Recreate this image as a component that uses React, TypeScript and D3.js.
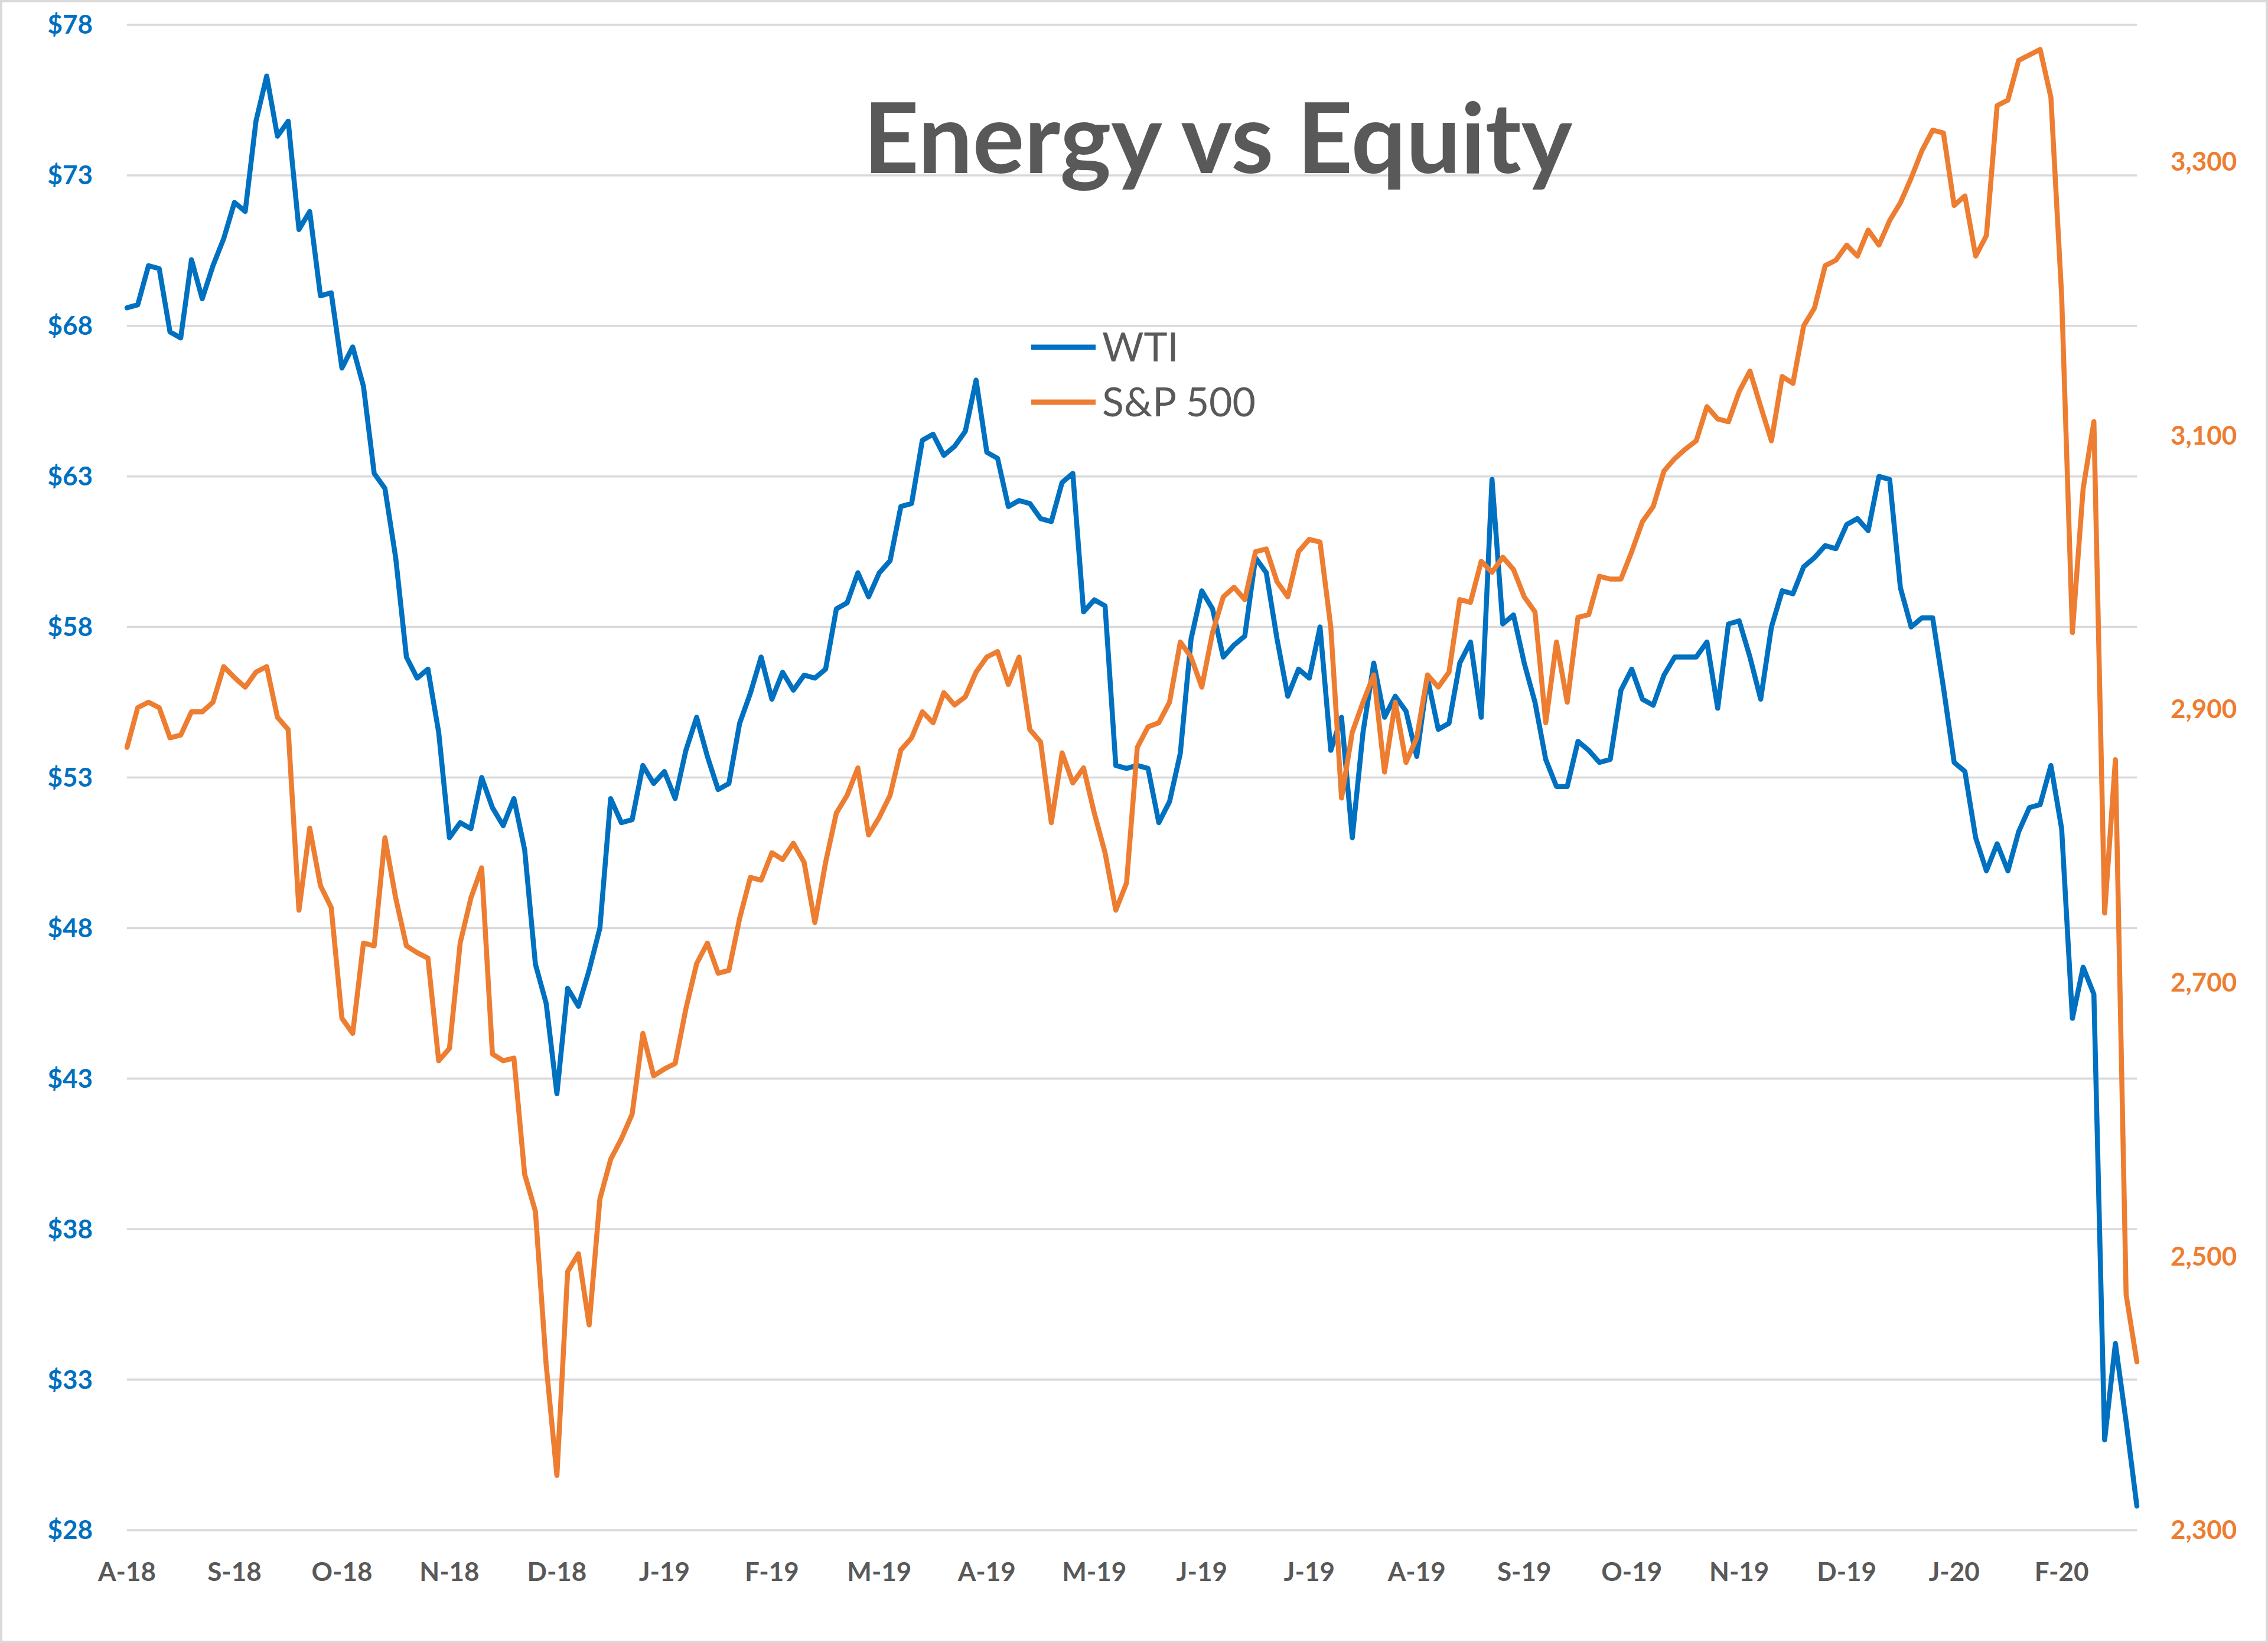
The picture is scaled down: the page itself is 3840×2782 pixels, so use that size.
import React from "react";
import * as d3 from "d3";

// sampled every ~2 trading days, Aug-2018 .. Mar-2020
const wtiPrice = [
  68.6, 68.7, 70.0, 69.9, 67.8, 67.6, 70.2, 68.9, 70.0, 70.9,
  72.1, 71.8, 74.8, 76.3, 74.3, 74.8, 71.2, 71.8, 69.0, 69.1,
  66.6, 67.3, 66.0, 63.1, 62.6, 60.3, 57.0, 56.3, 56.6, 54.5,
  51.0, 51.5, 51.3, 53.0, 52.0, 51.4, 52.3, 50.6, 46.8, 45.5,
  42.5, 46.0, 45.4, 46.6, 48.0, 52.3, 51.5, 51.6, 53.4, 52.8,
  53.2, 52.3, 53.9, 55.0, 53.7, 52.6, 52.8, 54.8, 55.8, 57.0,
  55.6, 56.5, 55.9, 56.4, 56.3, 56.6, 58.6, 58.8, 59.8, 59.0,
  59.8, 60.2, 62.0, 62.1, 64.2, 64.4, 63.7, 64.0, 64.5, 66.2,
  63.8, 63.6, 62.0, 62.2, 62.1, 61.6, 61.5, 62.8, 63.1, 58.5,
  58.9, 58.7, 53.4, 53.3, 53.4, 53.3, 51.5, 52.2, 53.8, 57.6,
  59.2, 58.6, 57.0, 57.4, 57.7, 60.3, 59.8, 57.6, 55.7, 56.6,
  56.3, 58.0, 53.9, 55.0, 51.0, 54.5, 56.8, 55.0, 55.7, 55.2,
  53.7, 56.3, 54.6, 54.8, 56.8, 57.5, 55.0, 62.9, 58.1, 58.4,
  56.8, 55.5, 53.6, 52.7, 52.7, 54.2, 53.9, 53.5, 53.6, 55.9,
  56.6, 55.6, 55.4, 56.4, 57.0, 57.0, 57.0, 57.5, 55.3, 58.1,
  58.2, 57.0, 55.6, 58.0, 59.2, 59.1, 60.0, 60.3, 60.7, 60.6,
  61.4, 61.6, 61.2, 63.0, 62.9, 59.3, 58.0, 58.3, 58.3, 56.0,
  53.5, 53.2, 51.0, 49.9, 50.8, 49.9, 51.2, 52.0, 52.1, 53.4,
  51.3, 45.0, 46.7, 45.8, 31.0, 34.2, 31.6, 28.8,
];

const spxClose = [
  2872, 2901, 2905, 2901, 2879, 2881, 2898, 2898, 2905, 2931,
  2923, 2916, 2927, 2931, 2894, 2885, 2753, 2813, 2771, 2755,
  2674, 2663, 2729, 2727, 2806, 2762, 2727, 2722, 2718, 2643,
  2652, 2729, 2762, 2784, 2648, 2643, 2645, 2560, 2533, 2421,
  2340, 2489, 2502, 2450, 2542, 2571, 2586, 2604, 2663, 2632,
  2637, 2641, 2681, 2714, 2729, 2707, 2709, 2747, 2777, 2775,
  2795, 2790, 2802, 2788, 2744, 2788, 2824, 2837, 2857, 2808,
  2821, 2837, 2870, 2879, 2898, 2890, 2912, 2903, 2909, 2927,
  2938, 2942, 2918, 2938, 2885, 2876, 2817, 2868, 2846, 2857,
  2824, 2795, 2753, 2773, 2872, 2887, 2890, 2905, 2949, 2938,
  2916, 2956, 2982, 2989, 2980, 3015, 3017, 2993, 2982, 3015,
  3024, 3022, 2960, 2835, 2883, 2905, 2925, 2854, 2905, 2861,
  2879, 2925, 2916, 2927, 2980, 2978, 3008, 3000, 3011, 3002,
  2982, 2971, 2890, 2949, 2905, 2967, 2969, 2997, 2995, 2995,
  3015, 3037, 3048, 3074, 3083, 3090, 3096, 3121, 3112, 3110,
  3132, 3147, 3121, 3096, 3143, 3138, 3180, 3193, 3224, 3228,
  3239, 3231, 3250, 3239, 3257, 3270, 3288, 3308, 3323, 3321,
  3268, 3275, 3231, 3246, 3341, 3345, 3374, 3378, 3382, 3347,
  3202, 2956, 3061, 3110, 2751, 2863, 2472, 2423,
];

const monthLabels = [
  "A-18", "S-18", "O-18", "N-18", "D-18", "J-19", "F-19", "M-19", "A-19", "M-19",
  "J-19", "J-19", "A-19", "S-19", "O-19", "N-19", "D-19", "J-20", "F-20",
];
const samplesPerLabel = 10;

const wtiTicks = [28, 33, 38, 43, 48, 53, 58, 63, 68, 73, 78];
const spxTicks = [2300, 2500, 2700, 2900, 3100, 3300];

const W = 3840;
const H = 2782;
const plot = {left: 215, right: 3618, top: 42, bottom: 2591};
const blue = "#0070C0";
const orange = "#ED7D31";
const gray = "#595959";
const font = "Lato, 'Open Sans', sans-serif";

export default function App() {
  const x = d3.scaleLinear().domain([0, wtiPrice.length - 1]).range([plot.left, plot.right]);
  const yLeft = d3.scaleLinear().domain([28, 78]).range([plot.bottom, plot.top]);
  const yRight = d3.scaleLinear().domain([2300, 3400]).range([plot.bottom, plot.top]);

  const wtiLine = d3.line<number>().x((_, i) => x(i)).y(d => yLeft(d));
  const spxLine = d3.line<number>().x((_, i) => x(i)).y(d => yRight(d));
  const comma = d3.format(",");

  return (
    <svg width={W} height={H} style={{position: "absolute", left: 0, top: 0, background: "#fff"}}
         fontFamily={font}>
      <rect x={2} y={2} width={W - 4} height={H - 4} fill="#fff" stroke="#d9d9d9" strokeWidth={4}/>

      {wtiTicks.map(t => (
        <line key={"g" + t} x1={plot.left} x2={plot.right} y1={yLeft(t)} y2={yLeft(t)}
              stroke="#d9d9d9" strokeWidth={3.5}/>
      ))}

      {wtiTicks.map(t => (
        <text key={"l" + t} x={157} y={yLeft(t)} dy="0.35em" textAnchor="end"
              fontSize={44} fontWeight="bold" fill={blue}>${t}</text>
      ))}

      {spxTicks.map(t => (
        <text key={"r" + t} x={3675} y={yRight(t)} dy="0.35em" textAnchor="start"
              fontSize={44} fontWeight="bold" fill={orange}>{comma(t)}</text>
      ))}

      {monthLabels.map((m, k) => (
        <text key={"m" + k} x={x(k * samplesPerLabel)} y={2677} textAnchor="middle"
              fontSize={44} fontWeight="bold" fill={gray}>{m}</text>
      ))}

      <path d={wtiLine(wtiPrice) ?? ""} fill="none" stroke={blue} strokeWidth={8.5}
            strokeLinejoin="round" strokeLinecap="round"/>
      <path d={spxLine(spxClose) ?? ""} fill="none" stroke={orange} strokeWidth={8.5}
            strokeLinejoin="round" strokeLinecap="round"/>

      <text x={2062} y={293} textAnchor="middle" fontSize={164} fontWeight="bold" fill={gray}>
        Energy vs Equity
      </text>

      <line x1={1746} x2={1855} y1={588} y2={588} stroke={blue} strokeWidth={9}/>
      <text x={1866} y={612} fontSize={68} fill={gray}>WTI</text>
      <line x1={1746} x2={1855} y1={681} y2={681} stroke={orange} strokeWidth={9}/>
      <text x={1866} y={705} fontSize={68} fill={gray}>S&amp;P 500</text>
    </svg>
  );
}
